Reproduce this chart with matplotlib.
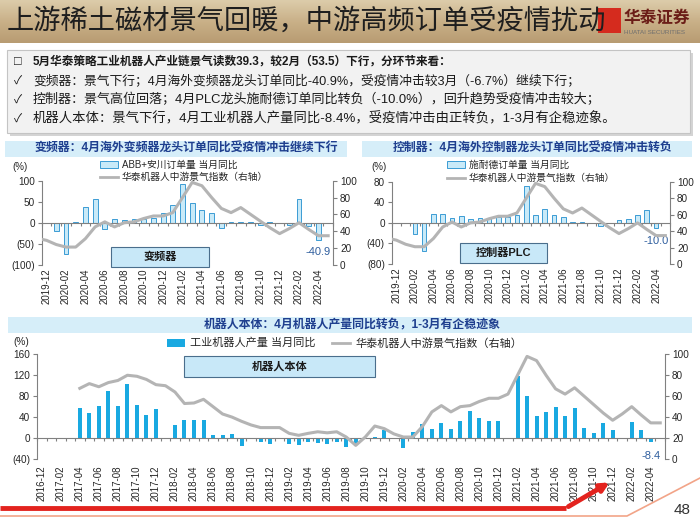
import matplotlib
matplotlib.use("Agg")
import matplotlib.pyplot as plt
import numpy as np
import pandas as pd
from matplotlib import transforms
from matplotlib.patches import Rectangle, FancyArrowPatch
from matplotlib.lines import Line2D
from matplotlib.colors import LinearSegmentedColormap

plt.rcParams['font.family'] = ['Liberation Sans', 'Noto Sans CJK SC', 'DejaVu Sans']
plt.rcParams['axes.unicode_minus'] = False

nan = np.nan

# ---- data -------------------------------------------------------------
months = pd.period_range('2016-12', '2022-05', freq='M').strftime('%Y-%m').tolist()

# 华泰机器人中游景气指数 (right axis), 2016-12 .. 2022-05
mid_index = [nan, nan, nan, nan,
             67.5, 72, 69, 73, 75, 80, 79, 76, 71,
             70, 64, 53, 53.5, 57, 50, 43, 40, 36, 32.5, 30, 30,
             30, 24.5, 22.6, 24.5, 26, 25, 26, 21, 13, 21, 31.5, 29,
             24, 21, 21, 31, 45, 51, 45, 50, 51, 55, 58, 58,
             62, 80, 98, 94, 80, 67, 62, 68, 60, 52, 44, 37,
             43, 50, 42, 34.5, 34.5]

# 工业机器人产量 当月同比, 2016-12 .. 2022-05
robot_yoy = [nan, nan, nan, nan,
             57, 47, 61, 90, 61, 103, 63, 45, 56,
             nan, 24, 34, 35, 35, 6, 5, 8, -16, -2, -7, -12,
             nan, -11, -14, -7, -10, -12, -7, -18, -13, 1, 2, 15,
             nan, -19, 12, 26, 17, 29, 18, 32, 52, 38, 32, 32,
             nan, 118, 81, 43, 50, 60, 42, 58, 19, 10, 28, 15,
             nan, 30, 16, -8.4, nan]

top_start = months.index('2019-12')
top_months = months[top_start:]

# ABB+安川订单量 当月同比, 2019-12 .. 2022-05
inverter_yoy = [nan, -20, -75, 2, 38, 56, -15, 9, 7, 10, 9, 11, 24, 43, 93, 46,
                31, 22, -13, 1, 1, 1, -5, 1, -1, -5, 57, -6.7, -40.9, nan]

# 施耐德订单量 当月同比, 2019-12 .. 2022-05
plc_yoy = [nan, nan, -21, -55, 17, 18, 10, 14, 8, 9, 10, 12, 12, 16, 72, 15,
           26, 15, 12, 2, 2, nan, -7, nan, 6, 8, 16, 25, -10.0, nan]

# ---- styling ----------------------------------------------------------
W, H = 700, 525
AXC = '#808080'
TXT = '#262626'
LINE = '#B4B4B4'
TITLE_BLUE = '#1F3F8F'
NOTE_BLUE = '#2F5E9E'
BOX_FILL = '#C8E8F8'
BOX_EDGE = '#4A6E8C'

fig = plt.figure(figsize=(7, 5.25), dpi=100)
fig.patch.set_facecolor('white')


def frect(x0, y0, x1, y1):
    return [x0 / W, 1 - y1 / H, (x1 - x0) / W, (y1 - y0) / H]


def ftext(x, y, s, **kw):
    return fig.text(x / W, 1 - y / H, s, **kw)


def fbox(x0, y0, x1, y1, **kw):
    fig.add_artist(Rectangle((x0 / W, 1 - y1 / H), (x1 - x0) / W, (y1 - y0) / H,
                             transform=fig.transFigure, **kw))


def fline(xs, ys, **kw):
    fig.add_artist(Line2D([x / W for x in xs], [1 - y / H for y in ys],
                          transform=fig.transFigure, **kw))


def paren(v):
    return f'({abs(v):g})' if v < 0 else f'{v:g}'


# ---- slide header -----------------------------------------------------
gax = fig.add_axes([0, 1 - 43 / H, 1, 43 / H])
cmap = LinearSegmentedColormap.from_list('hdr', ['#DCCCAA', '#C9B088', '#B89C72'])
gax.imshow(np.linspace(0, 1, 60)[:, None], aspect='auto', cmap=cmap, extent=[0, 1, 0, 1])
gax.axis('off')

fbox(598, 8, 621, 33, facecolor='#D52B1E', edgecolor='none', zorder=2)
ftext(7, 21, '上游稀土磁材景气回暖，中游高频订单受疫情扰动', fontsize=19.6,
      color='#1E1E1E', va='center', zorder=3)
ftext(624, 18, '华泰证券', fontsize=12, fontweight='bold', color='#6B1D17', va='center', zorder=3)
ftext(624, 32, 'HUATAI SECURITIES', fontsize=4.5, color='#6E6E6E', va='center', zorder=3)

# ---- bullet box -------------------------------------------------------
fbox(10, 53, 693, 136, facecolor='#D4D4D4', edgecolor='none')
fbox(7, 50, 690, 133, facecolor='#F2F2F2', edgecolor='#C4C4C4', lw=0.8)
bullets = [
    ('□', '5月华泰策略工业机器人产业链景气读数39.3，较2月（53.5）下行，分环节来看：', 'bold', 8.4),
    ('✓', '变频器：景气下行；4月海外变频器龙头订单同比-40.9%，受疫情冲击较3月（-6.7%）继续下行；', 'normal', 9.2),
    ('✓', '控制器：景气高位回落；4月PLC龙头施耐德订单同比转负（-10.0%），回升趋势受疫情冲击较大；', 'normal', 9.4),
    ('✓', '机器人本体：景气下行，4月工业机器人产量同比-8.4%，受疫情冲击由正转负，1-3月有企稳迹象。', 'normal', 9.6),
]
for k, (mark, line, wt, fs) in enumerate(bullets):
    y = 62 + k * 19
    ftext(14, y, mark, fontsize=8.5 if k else 9, fontweight='bold' if k == 0 else 'normal',
          color='#1A1A1A', va='center')
    ftext(33, y, line, fontsize=fs, fontweight=wt, color='#1A1A1A', va='center')

# ---- chart title bands --------------------------------------------------
for (x0, y0, x1, y1, s, cx) in [
        (5, 141, 347, 157, '变频器：4月海外变频器龙头订单同比受疫情冲击继续下行', 186),
        (362, 141, 692, 157, '控制器：4月海外控制器龙头订单同比受疫情冲击转负', 533),
        (8, 317, 692, 333, '机器人本体：4月机器人产量同比转负，1-3月有企稳迹象', 352)]:
    fbox(x0, y0, x1, y1, facecolor='#D6EEF9', edgecolor='none')
    ftext(cx, (y0 + y1) / 2, s, fontsize=8.6, fontweight='bold', color=TITLE_BLUE,
          ha='center', va='center')


def chart(rect, cats, bars, bar_kw, idx_x, ylim, yticks, label_y):
    ax = fig.add_axes(rect)
    x = np.arange(len(cats))
    ax.bar(x, bars, **bar_kw)
    ax.set_xlim(-0.5, len(cats) - 0.5)
    ax.set_ylim(*ylim)
    ax.set_yticks(yticks)
    ax.set_yticklabels([paren(v) for v in yticks])
    for s in ['top', 'right']:
        ax.spines[s].set_visible(False)
    ax.spines['left'].set_color(AXC)
    ax.spines['bottom'].set_position(('data', 0))
    ax.spines['bottom'].set_color(AXC)
    ax.set_xticks(np.arange(-0.5, len(cats), 1))
    ax.set_xticklabels([])
    ax.tick_params(axis='x', length=2.5, color=AXC, width=0.8)
    ax.tick_params(axis='y', length=3, color=AXC, labelsize=7.2, pad=2, labelcolor=TXT)
    ax.patch.set_alpha(0)
    blend = transforms.blended_transform_factory(ax.transData, ax.transAxes)
    for i in range(0, len(cats), 2):
        ax.text(i, label_y, cats[i], transform=blend, rotation=90, ha='center', va='top',
                fontsize=7, color=TXT)
    axr = ax.twinx()
    axr.plot(idx_x, mid_index, color=LINE, lw=2.2, solid_joinstyle='round')
    axr.set_ylim(0, 100)
    axr.set_yticks([0, 20, 40, 60, 80, 100])
    for s in ['top', 'left', 'bottom']:
        axr.spines[s].set_visible(False)
    axr.spines['right'].set_color(AXC)
    axr.tick_params(axis='y', length=3, color=AXC, labelsize=7.2, pad=2, labelcolor=TXT)
    return ax, axr


top_bar = dict(width=0.5, facecolor='#C9EAF8', edgecolor='#3B9CD4', linewidth=0.7)
full_x = np.arange(len(months))

# chart 1: 变频器
ax1, _ = chart(frect(41.7, 180.7, 333, 264.7), top_months, inverter_yoy, top_bar,
               full_x - top_start, (-100, 100), [100, 50, 0, -50, -100], -0.04)
ax1.text(28, -70, '-40.9', fontsize=8, color=NOTE_BLUE, ha='center', va='center')

# chart 2: 控制器
ax2, _ = chart(frect(391.7, 181.7, 670, 264), top_months, plc_yoy, top_bar,
               full_x - top_start, (-80, 80), [80, 40, 0, -40, -80], -0.045)
ax2.text(28, -36, '-10.0', fontsize=8, color=NOTE_BLUE, ha='center', va='center')

# chart 3: 机器人本体
ax3, _ = chart(frect(37, 354.3, 665, 459), months, robot_yoy,
               dict(width=0.42, color='#19A9E1'),
               full_x, (-40, 160), [160, 120, 80, 40, 0, -40], -0.06)
ax3.text(64, -34, '-8.4', fontsize=8, color=NOTE_BLUE, ha='center', va='center')

# ---- legends & small labels -------------------------------------------
ftext(12, 167, '(%)', fontsize=7, color=TXT, va='center')
fbox(100, 161, 118, 168, facecolor='#C9EAF8', edgecolor='#3B9CD4', lw=0.7)
ftext(122, 164.5, 'ABB+安川订单量 当月同比', fontsize=7, color=TXT, va='center')
fline([100, 118], [177, 177], color=LINE, lw=2)
ftext(122, 177, '华泰机器人中游景气指数（右轴）', fontsize=7, color=TXT, va='center')

ftext(371, 167, '(%)', fontsize=7, color=TXT, va='center')
fbox(447, 161, 465, 168, facecolor='#C9EAF8', edgecolor='#3B9CD4', lw=0.7)
ftext(469, 164.5, '施耐德订单量 当月同比', fontsize=7, color=TXT, va='center')
fline([447, 465], [177.5, 177.5], color=LINE, lw=2)
ftext(469, 177.5, '华泰机器人中游景气指数（右轴）', fontsize=7, color=TXT, va='center')

ftext(13, 342, '(%)', fontsize=7.2, color=TXT, va='center')
fbox(167, 339, 185, 347, facecolor='#19A9E1', edgecolor='none')
ftext(190, 343, '工业机器人产量 当月同比', fontsize=8, color=TXT, va='center')
fline([332, 350], [343, 343], color=LINE, lw=2)
ftext(356, 343, '华泰机器人中游景气指数（右轴）', fontsize=8, color=TXT, va='center')

# labelled boxes
for (x0, y0, x1, y1, s) in [(111, 247, 209, 267, '变频器'),
                            (460, 243, 547, 263, '控制器PLC'),
                            (184, 356, 375, 377, '机器人本体')]:
    fbox(x0, y0, x1, y1, facecolor=BOX_FILL, edgecolor=BOX_EDGE, lw=0.8, zorder=4)
    ftext((x0 + x1) / 2, (y0 + y1) / 2, s, fontsize=8, fontweight='bold', color='#1A1A1A',
          ha='center', va='center', zorder=5)

# ---- footer -------------------------------------------------------------
fline([0, 627, 700], [516, 516, 478], color='#F2A488', lw=1.2)
fline([0, 566], [508, 508], color='#E3231E', lw=3.5, solid_capstyle='butt')
fig.add_artist(FancyArrowPatch((566 / W, 1 - 508 / H), (612 / W, 1 - 481 / H),
                               transform=fig.transFigure, arrowstyle='-|>',
                               mutation_scale=12, lw=3.5, color='#E3231E'))
ftext(682, 510, '48', fontsize=11, color='#333333', ha='center', va='center')

fig.savefig('out.png', dpi=100)
